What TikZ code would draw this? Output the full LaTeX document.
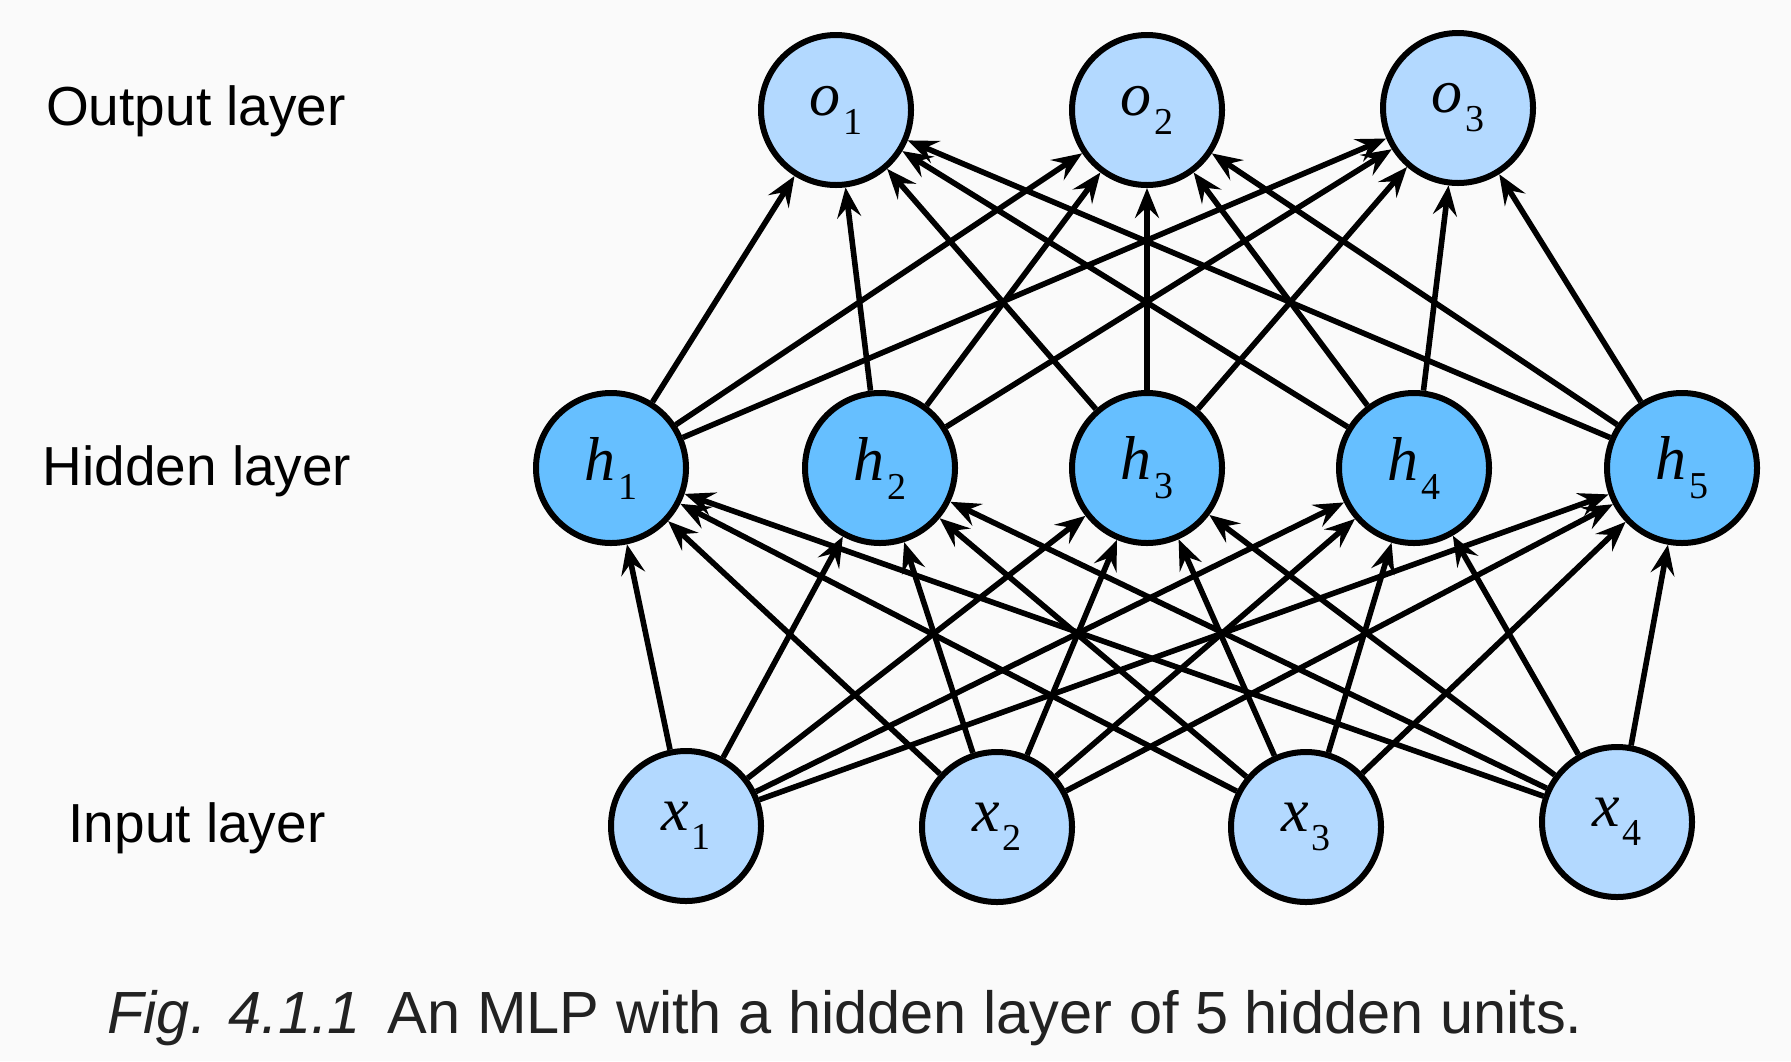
\documentclass[tikz,border=0pt]{standalone}
\usepackage{fontspec}
\setmainfont{Liberation Sans}
\newfontfamily\tnr{Liberation Serif}
\usetikzlibrary{arrows.meta}
\definecolor{bgc}{HTML}{FAFAFA}
\definecolor{lightb}{HTML}{B3D9FF}
\definecolor{darkb}{HTML}{66BFFF}
\definecolor{captxt}{HTML}{222222}
\newcommand\nlab[2]{{\tnr\fontsize{31}{32}\selectfont\itshape #1}\kern1.5pt\raisebox{-9.5pt}{\tnr\fontsize{19}{20}\selectfont #2}}
\begin{document}
\begin{tikzpicture}[x=0.5pt,y=-0.5pt,
  unit/.style={circle, draw=black, line width=3pt, minimum size=75pt, inner sep=0pt},
  inunit/.style={unit, fill=lightb},
  hidunit/.style={unit, fill=darkb},
  conn/.style={line width=2.8pt, -{Stealth[length=15pt,width=12pt,inset=5.5pt]}},
  layerlabel/.style={font=\fontsize{27.5}{30}\selectfont, anchor=base, inner sep=0pt},
  captext/.style={anchor=base west, inner sep=0pt, text=captxt}]
\fill[bgc] (0,0) rectangle (1791,1061);
\useasboundingbox (0,0) rectangle (1791,1061);

\node[layerlabel] (lo) at (196,125) {Output layer};
\node[layerlabel] (lh) at (197,485) {Hidden layer};
\node[layerlabel] (li) at (197,842) {Input layer};

\node[inunit] (x1) at (686,826) {\nlab{x}{1}};
\node[inunit] (x2) at (997,827) {\nlab{x}{2}};
\node[inunit] (x3) at (1306,827) {\nlab{x}{3}};
\node[inunit] (x4) at (1617,822) {\nlab{x}{4}};

\node[hidunit] (h1) at (611,468) {\nlab{h}{1}};
\node[hidunit] (h2) at (880,468) {\nlab{h}{2}};
\node[hidunit] (h3) at (1147,468) {\nlab{h}{3}};
\node[hidunit] (h4) at (1414,468) {\nlab{h}{4}};
\node[hidunit] (h5) at (1682,468) {\nlab{h}{5}};

\node[inunit] (o1) at (836,110) {\nlab{o}{1}};
\node[inunit] (o2) at (1147,110) {\nlab{o}{2}};
\node[inunit] (o3) at (1458,108) {\nlab{o}{3}};

\foreach \i in {1,...,4}
  \foreach \j in {1,...,5}
    \draw[conn] (x\i) -- (h\j);
\foreach \i in {1,...,5}
  \foreach \j in {1,...,3}
    \draw[conn] (h\i) -- (o\j);

\node[captext] (cap) at (107,1033) {\resizebox{737.5pt}{!}{\itshape Fig. 4.1.1\upshape\hspace{0.45em}An MLP with a hidden layer of 5 hidden units.}};
\end{tikzpicture}
\end{document}
